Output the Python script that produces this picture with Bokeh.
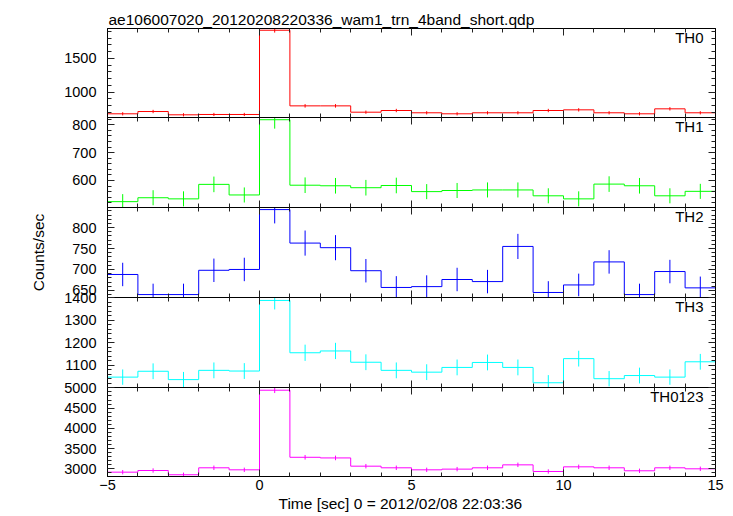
from bokeh.plotting import figure
from bokeh.layouts import column
from bokeh.models import Range1d, LinearAxis, SingleIntervalTicker, FixedTicker, Label, Title, CustomJSTickFormatter
from bokeh.embed import file_html
from bokeh.resources import INLINE

# ---------------- data ----------------
title_text = "ae106007020_20120208220336_wam1_trn_4band_short.qdp"
x_label_text = "Time [sec] 0 = 2012/02/08 22:03:36"
y_label_text = "Counts/sec"

bin_start = [-5, -4, -3, -2, -1, 0, 1, 2, 3, 4, 5, 6, 7, 8, 9, 10, 11, 12, 13, 14]
bin_width = 1

band_names = ["TH0", "TH1", "TH2", "TH3", "TH0123"]

th0_rate = [676, 710, 661, 666, 666, 1919, 794, 794, 700, 725, 691, 676, 691, 691, 725, 735, 691, 676, 750, 691]
th0_err = [24, 25, 24, 24, 24, 35, 26, 26, 24, 25, 24, 24, 24, 24, 25, 25, 24, 24, 25, 24]

th1_rate = [524, 538, 534, 586, 548, 818, 583, 581, 574, 582, 560, 564, 566, 566, 545, 534, 587, 581, 545, 561]
th1_err = [27, 27, 27, 28, 27, 32, 28, 28, 28, 28, 27, 27, 27, 27, 27, 27, 28, 28, 27, 27]

th2_rate = [688, 640, 640, 698, 700, 843, 763, 752, 697, 657, 659, 676, 671, 755, 645, 663, 718, 640, 695, 656]
th2_err = [28, 26, 26, 28, 28, 33, 30, 30, 28, 27, 27, 28, 28, 30, 27, 27, 28, 26, 28, 27]

th3_rate = [1048, 1074, 1037, 1078, 1075, 1388, 1156, 1164, 1114, 1078, 1070, 1091, 1113, 1091, 1023, 1130, 1041, 1055, 1048, 1116]
th3_err = [34, 35, 34, 35, 35, 40, 36, 36, 35, 35, 35, 35, 35, 35, 34, 35, 34, 35, 34, 35]

th0123_rate = [2917, 2958, 2853, 3025, 2975, 4943, 3285, 3269, 3065, 3025, 2975, 2992, 3025, 3098, 2934, 3049, 3025, 2951, 3025, 3000]
th0123_err = [54, 54, 53, 55, 54, 70, 57, 57, 55, 55, 54, 54, 55, 55, 54, 55, 55, 54, 55, 55]

band_rates = [th0_rate, th1_rate, th2_rate, th3_rate, th0123_rate]
band_errs = [th0_err, th1_err, th2_err, th3_err, th0123_err]
band_colors = ["#ff0000", "#00ff00", "#0000ff", "#00ffff", "#ff00ff"]

y_lows = [621, 503, 633, 1002, 2810]
y_highs = [1945, 826, 848, 1401, 5010]
y_tick_steps = [500, 100, 50, 100, 500]
x_start, x_end = -5, 15
x_major_ticks = [-5, 0, 5, 10, 15]
x_minor_ticks = [-4, -3, -2, -1, 1, 2, 3, 4, 6, 7, 8, 9, 11, 12, 13, 14]

# ---------------- layout / style ----------------
FONT = "Liberation Sans"
FIG_W = 725
BORDER_L = 107
BORDER_R = 10
FRAME_HS = [89, 90, 90, 90, 89]
TOP_BORDER = 28
BOTTOM_BORDER = 40
OVERLAP = 10
TICK_COLOR = "#222222"

blank_fmt = CustomJSTickFormatter(code="return ''")


def style_axis(ax, ticker, show_labels, standoff):
    ax.ticker = ticker
    ax.axis_line_color = "black"
    ax.axis_line_width = 1
    ax.major_tick_in = 7
    ax.major_tick_out = 0
    ax.minor_tick_in = 4
    ax.minor_tick_out = 0
    ax.major_tick_line_color = TICK_COLOR
    ax.minor_tick_line_color = TICK_COLOR
    if show_labels:
        ax.major_label_text_font = FONT
        ax.major_label_text_font_size = "14.5px"
        ax.major_label_text_color = "black"
        ax.major_label_standoff = standoff
    else:
        ax.formatter = blank_fmt
        ax.major_label_standoff = 0


panels = []
n = len(band_names)
for i in range(n):
    fh = FRAME_HS[i]
    top = TOP_BORDER if i == 0 else OVERLAP
    bottom = BOTTOM_BORDER if i == n - 1 else OVERLAP
    p = figure(width=FIG_W, height=fh + top + bottom,
               x_range=Range1d(x_start, x_end),
               y_range=Range1d(y_lows[i], y_highs[i]),
               output_backend="svg", toolbar_location=None,
               min_border_left=BORDER_L, min_border_right=BORDER_R,
               min_border_top=top, min_border_bottom=bottom,
               margin=(0 if i == 0 else -OVERLAP, 0, 0 if i == n - 1 else -OVERLAP, 0))
    p.grid.visible = False
    p.outline_line_color = "black"
    p.outline_line_width = 1
    p.background_fill_alpha = 0
    p.border_fill_alpha = 0

    xt = FixedTicker(ticks=x_major_ticks, minor_ticks=x_minor_ticks)
    yt = SingleIntervalTicker(interval=y_tick_steps[i], num_minor_ticks=5)
    style_axis(p.xaxis[0], xt, i == n - 1, 3)
    style_axis(p.yaxis[0], yt, True, 11)
    top_ax = LinearAxis()
    style_axis(top_ax, xt, False, 0)
    p.add_layout(top_ax, "above")
    right_ax = LinearAxis()
    style_axis(right_ax, yt, False, 0)
    p.add_layout(right_ax, "right")

    c = band_colors[i]
    rates = band_rates[i]
    errs = band_errs[i]
    # histogram outline: a horizontal run over each bin, vertical jumps at the edges
    stair_x, stair_y = [], []
    for b, v in zip(bin_start, rates):
        stair_x += [b, b + bin_width]
        stair_y += [v, v]
    p.line(stair_x, stair_y, line_color=c, line_width=1)
    centers = [b + bin_width / 2 for b in bin_start]
    lo = [v - e for v, e in zip(rates, errs)]
    hi = [v + e for v, e in zip(rates, errs)]
    p.segment(centers, lo, centers, hi, line_color=c, line_width=1)

    p.add_layout(Label(x=608 - 12, y=fh - 9, x_units="screen", y_units="screen",
                       text=band_names[i], text_align="right", text_baseline="alphabetic",
                       text_font=FONT, text_font_size="15px", text_color="black"))

    if i == 0:
        t = Title(text=title_text, align="left", offset=1, standoff=0,
                  vertical_align="middle",
                  text_font=FONT, text_font_size="15.5px", text_font_style="normal",
                  text_color="black")
        p.add_layout(t, "above")
    if i == 2:
        ax = p.yaxis[0]
        ax.axis_label = y_label_text
        ax.axis_label_text_font = FONT
        ax.axis_label_text_font_size = "15.5px"
        ax.axis_label_text_font_style = "normal"
        ax.axis_label_text_color = "black"
        ax.axis_label_standoff = 22
    if i == n - 1:
        t = Title(text=x_label_text, align="left", offset=171, standoff=0,
                  text_font=FONT, text_font_size="15.5px", text_font_style="normal",
                  text_color="black")
        p.add_layout(t, "below")
    panels.append(p)

layout = column(*panels, spacing=0)
open("out.html", "w").write(file_html(layout, INLINE))
